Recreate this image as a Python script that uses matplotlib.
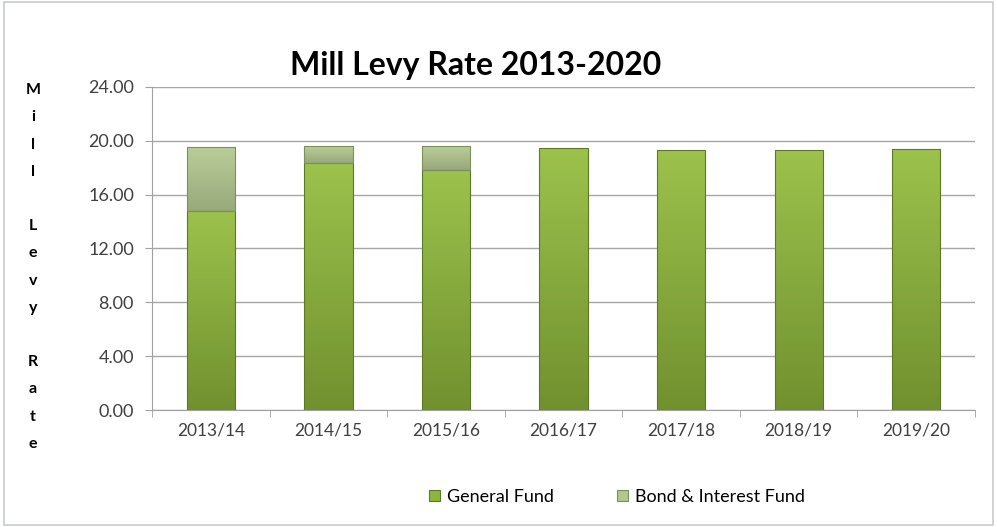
import matplotlib.pyplot as plt
import numpy as np
from matplotlib.colors import LinearSegmentedColormap
from matplotlib.patches import Patch, Rectangle

years = ["2013/14", "2014/15", "2015/16", "2016/17", "2017/18", "2018/19", "2019/20"]
general_fund = [14.82, 18.34, 17.80, 19.50, 19.33, 19.33, 19.40]
bond_interest = [4.70, 1.24, 1.78, 0, 0, 0, 0]
y_ticks = [0, 4, 8, 12, 16, 20, 24]

plt.rcParams["font.family"] = ["Lato", "DejaVu Sans"]

fig = plt.figure(figsize=(9.97, 5.27), dpi=100)
fig.patches.append(Rectangle((0.004, 0.004), 0.992, 0.992, transform=fig.transFigure,
                             fill=False, edgecolor="#c8ccd0", linewidth=1.2))
ax = fig.add_axes([0.1525, 0.222, 0.8255, 0.613])

x = np.arange(len(years))
w = 0.41
gen = ax.bar(x, general_fund, width=w, color="#8db53e", edgecolor="#5c7a24",
             linewidth=0.8, zorder=3)
bond = ax.bar(x, bond_interest, width=w, bottom=general_fund, color="#b3c88c",
              edgecolor="#7d8f5c", linewidth=0.8, zorder=3)


# vertical gradient shading inside each bar, outline kept on top
def shade(bars, top, bottom):
    cmap = LinearSegmentedColormap.from_list("g", [bottom, top])
    grad = np.linspace(0, 1, 64).reshape(-1, 1)
    for p in bars:
        if p.get_height() <= 0:
            p.set_visible(False)
            continue
        x0, y0 = p.get_x(), p.get_y()
        im = ax.imshow(grad, cmap=cmap, origin="lower", aspect="auto", zorder=3.5,
                       extent=[x0, x0 + p.get_width(), y0, y0 + p.get_height()])
        im.set_clip_path(p)
        p.set_facecolor("none")
        p.set_zorder(4)


shade(gen, "#9cc24c", "#71912f")
shade(bond, "#b9cd98", "#98a97b")

ax.set_xlim(-0.5, len(years) - 0.5)
ax.set_ylim(0, 24)
ax.set_yticks(y_ticks)
ax.set_yticklabels([f"{v:.2f}" for v in y_ticks], fontsize=13, color="#404040")
ax.set_xticks(x)
ax.set_xticklabels(years, fontsize=12.5, color="#404040")
ax.set_xticks(np.arange(-0.5, len(years)), minor=True)
ax.tick_params(axis="x", which="major", length=0, pad=9)
ax.tick_params(axis="x", which="minor", length=5, color="#a0a0a0")
ax.tick_params(axis="y", length=5, color="#a0a0a0", pad=8)
ax.grid(axis="y", color="#a6a6a6", linewidth=1, zorder=0)
for s in ["top", "right"]:
    ax.spines[s].set_visible(False)
for s in ["left", "bottom"]:
    ax.spines[s].set_color("#a0a0a0")

fig.text(476 / 997, 1 - 66 / 527, "Mill Levy Rate 2013-2020", ha="center",
         va="center", fontsize=23, fontweight="bold", color="black")
fig.text(33 / 997, 1 - 267 / 527, "\n".join("Mill Levy Rate"), ha="center",
         va="center", fontsize=11.5, fontweight="bold", linespacing=2.2)

handles = [Patch(facecolor="#8db53e", edgecolor="#5c7a24", linewidth=0.8),
           Patch(facecolor="#b3c88c", edgecolor="#7d8f5c", linewidth=0.8)]
fig.legend(handles, ["General Fund", "Bond & Interest Fund"], loc="center",
           bbox_to_anchor=(617 / 997, 1 - 497 / 527), ncol=2, frameon=False,
           fontsize=13, handlelength=0.6, handleheight=0.6, columnspacing=3.5,
           handletextpad=0.4)

fig.savefig("out.png", dpi=100)
